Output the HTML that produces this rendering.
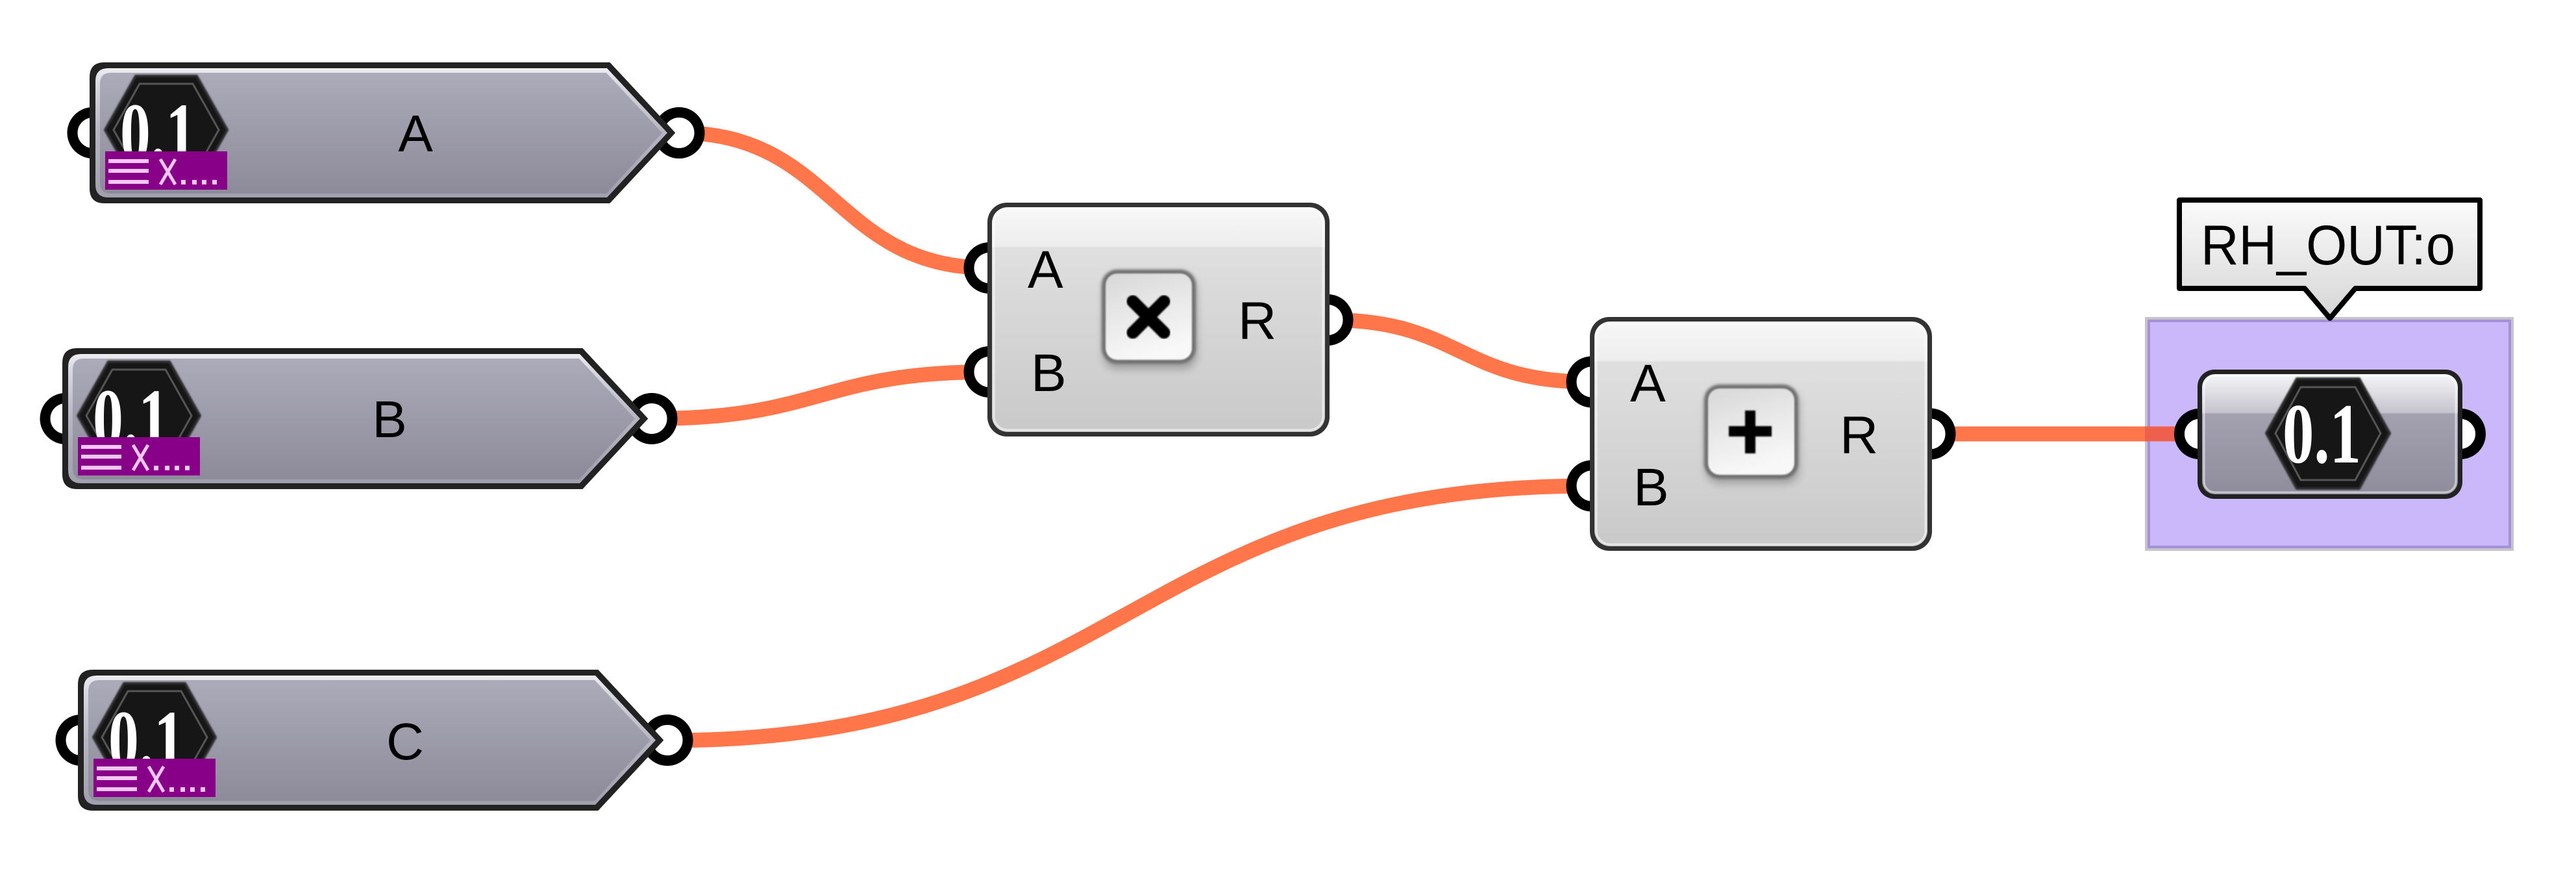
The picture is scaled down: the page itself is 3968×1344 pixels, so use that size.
<!DOCTYPE html>
<html><head><meta charset="utf-8"><style>
html,body{margin:0;padding:0;background:#fff;width:3968px;height:1344px;overflow:hidden}
svg{display:block}
</style></head><body>
<svg width="3968" height="1344" viewBox="0 0 3968 1344" xmlns="http://www.w3.org/2000/svg">
<defs>
  <linearGradient id="pfill" x1="0" y1="0" x2="0" y2="1">
    <stop offset="0" stop-color="#acabba"/><stop offset="1" stop-color="#8d8b9a"/>
  </linearGradient>
  <linearGradient id="prim" x1="0" y1="0" x2="0" y2="1">
    <stop offset="0" stop-color="#ececf1"/><stop offset="0.12" stop-color="#d9d9e0"/>
    <stop offset="0.5" stop-color="#b6b5c1"/><stop offset="1" stop-color="#a09fae"/>
  </linearGradient>
  <linearGradient id="cfill" x1="0" y1="0" x2="0" y2="1">
    <stop offset="0" stop-color="#f8f8f8"/><stop offset="0.175" stop-color="#ededed"/>
    <stop offset="0.18" stop-color="#dfdfdf"/><stop offset="1" stop-color="#c9c9c9"/>
  </linearGradient>
  <linearGradient id="ofill" x1="0" y1="0" x2="0" y2="1">
    <stop offset="0" stop-color="#f6f6f8"/><stop offset="0.32" stop-color="#c5c4cd"/>
    <stop offset="0.33" stop-color="#a3a1b0"/><stop offset="1" stop-color="#8f8d9c"/>
  </linearGradient>
  <linearGradient id="bfill" x1="0" y1="0" x2="0" y2="1">
    <stop offset="0" stop-color="#fbfbfb"/><stop offset="1" stop-color="#d6d6d6"/>
  </linearGradient>
  <linearGradient id="btn" x1="0" y1="0" x2="0.3" y2="1">
    <stop offset="0" stop-color="#d8d8d8"/><stop offset="1" stop-color="#f8f8f8"/>
  </linearGradient>
  <filter id="b6" x="-30%" y="-30%" width="160%" height="160%"><feGaussianBlur stdDeviation="6"/></filter>
  <filter id="b2" x="-20%" y="-20%" width="140%" height="140%"><feGaussianBlur stdDeviation="2"/></filter>
  <filter id="b1" x="-20%" y="-20%" width="140%" height="140%"><feGaussianBlur stdDeviation="1"/></filter>
</defs>

<!-- wires -->
<g fill="none" stroke="#FF764B" stroke-width="23">
  <path d="M1046,204.5 C1285,204.5 1285,412.5 1524,412.5"/>
  <path d="M1004,644.5 C1264,644.5 1264,572.5 1524,572.5"/>
  <path d="M2048,492.5 C2248,492.5 2248,588 2449,588"/>
  <path d="M1028,1140 C1738,1140 1738,748 2449,748"/>
  <path d="M2975,668 L3310,668"/>
</g>

<!-- purple group -->
<rect x="3304" y="488" width="568" height="360" fill="#c6c3ce"/>
<rect x="3308" y="492" width="560" height="352" fill="#a690d8"/>
<rect x="3312" y="496" width="552" height="344" fill="#cbb8fb"/>
<path d="M3304,668 L3390,668" stroke="#EE5F4C" stroke-width="23"/>

<!-- param node A -->
<g transform="translate(139,97)">
  <circle cx="4" cy="107.5" r="31.5" fill="#fff" stroke="#000" stroke-width="16"/>
  <circle cx="907" cy="107.5" r="31.5" fill="#fff" stroke="#000" stroke-width="16"/>
  <path d="M22,0 L800,0 L900,107.5 L800,215 L22,215 Q0,215 0,193 L0,22 Q0,0 22,0 Z" fill="#222" stroke="#222" stroke-width="2" stroke-linejoin="round"/>
  <path d="M28,8 L796,8 L889,107.5 L796,207 L28,207 Q8,207 8,187 L8,28 Q8,8 28,8 Z" fill="url(#prim)"/>
  <path d="M32,15 L795,15 L881,107.5 L795,201 L32,201 Q15,201 15,184 L15,32 Q15,15 32,15 Z" fill="url(#pfill)"/>
  <polygon points="23,103 70,20 164,20 211,103 164,186 70,186" fill="#151515" stroke="#2a2a2a" stroke-width="4" stroke-linejoin="round" filter="url(#b1)"/>
  <polygon points="36,103 76,32 158,32 198,103 158,174 76,174" fill="none" stroke="#555" stroke-width="3"/>
  <text x="46" y="151" font-family="Liberation Serif, serif" font-weight="bold" font-size="130" fill="#fff" textLength="117" lengthAdjust="spacingAndGlyphs">0.1</text>
  <rect x="23" y="136" width="188" height="59" fill="#870087"/>
  <g fill="#f3c9f3"><rect x="28" y="148" width="62" height="6"/><rect x="28" y="163" width="62" height="6"/><rect x="28" y="180" width="62" height="6"/>
  <rect x="140" y="180" width="7" height="7"/><rect x="157" y="180" width="7" height="7"/><rect x="172" y="180" width="7" height="7"/><rect x="188" y="180" width="7" height="7"/></g>
  <path d="M108,148 L131,187 M131,148 L108,187" stroke="#f3c9f3" stroke-width="5"/>
  <text x="501" y="136" text-anchor="middle" font-family="Liberation Sans, sans-serif" font-size="80" fill="#000">A</text>
</g>

<!-- param node B -->
<g transform="translate(97,537)">
  <circle cx="4" cy="107.5" r="31.5" fill="#fff" stroke="#000" stroke-width="16"/>
  <circle cx="907" cy="107.5" r="31.5" fill="#fff" stroke="#000" stroke-width="16"/>
  <path d="M22,0 L800,0 L900,107.5 L800,215 L22,215 Q0,215 0,193 L0,22 Q0,0 22,0 Z" fill="#222" stroke="#222" stroke-width="2" stroke-linejoin="round"/>
  <path d="M28,8 L796,8 L889,107.5 L796,207 L28,207 Q8,207 8,187 L8,28 Q8,8 28,8 Z" fill="url(#prim)"/>
  <path d="M32,15 L795,15 L881,107.5 L795,201 L32,201 Q15,201 15,184 L15,32 Q15,15 32,15 Z" fill="url(#pfill)"/>
  <polygon points="23,103 70,20 164,20 211,103 164,186 70,186" fill="#151515" stroke="#2a2a2a" stroke-width="4" stroke-linejoin="round" filter="url(#b1)"/>
  <polygon points="36,103 76,32 158,32 198,103 158,174 76,174" fill="none" stroke="#555" stroke-width="3"/>
  <text x="46" y="151" font-family="Liberation Serif, serif" font-weight="bold" font-size="130" fill="#fff" textLength="117" lengthAdjust="spacingAndGlyphs">0.1</text>
  <rect x="23" y="136" width="188" height="59" fill="#870087"/>
  <g fill="#f3c9f3"><rect x="28" y="148" width="62" height="6"/><rect x="28" y="163" width="62" height="6"/><rect x="28" y="180" width="62" height="6"/>
  <rect x="140" y="180" width="7" height="7"/><rect x="157" y="180" width="7" height="7"/><rect x="172" y="180" width="7" height="7"/><rect x="188" y="180" width="7" height="7"/></g>
  <path d="M108,148 L131,187 M131,148 L108,187" stroke="#f3c9f3" stroke-width="5"/>
  <text x="503" y="136" text-anchor="middle" font-family="Liberation Sans, sans-serif" font-size="80" fill="#000">B</text>
</g>

<!-- param node C -->
<g transform="translate(121,1032)">
  <circle cx="4" cy="107.5" r="31.5" fill="#fff" stroke="#000" stroke-width="16"/>
  <circle cx="907" cy="107.5" r="31.5" fill="#fff" stroke="#000" stroke-width="16"/>
  <path d="M22,0 L800,0 L900,107.5 L800,215 L22,215 Q0,215 0,193 L0,22 Q0,0 22,0 Z" fill="#222" stroke="#222" stroke-width="2" stroke-linejoin="round"/>
  <path d="M28,8 L796,8 L889,107.5 L796,207 L28,207 Q8,207 8,187 L8,28 Q8,8 28,8 Z" fill="url(#prim)"/>
  <path d="M32,15 L795,15 L881,107.5 L795,201 L32,201 Q15,201 15,184 L15,32 Q15,15 32,15 Z" fill="url(#pfill)"/>
  <polygon points="23,103 70,20 164,20 211,103 164,186 70,186" fill="#151515" stroke="#2a2a2a" stroke-width="4" stroke-linejoin="round" filter="url(#b1)"/>
  <polygon points="36,103 76,32 158,32 198,103 158,174 76,174" fill="none" stroke="#555" stroke-width="3"/>
  <text x="46" y="151" font-family="Liberation Serif, serif" font-weight="bold" font-size="130" fill="#fff" textLength="117" lengthAdjust="spacingAndGlyphs">0.1</text>
  <rect x="23" y="136" width="188" height="59" fill="#870087"/>
  <g fill="#f3c9f3"><rect x="28" y="148" width="62" height="6"/><rect x="28" y="163" width="62" height="6"/><rect x="28" y="180" width="62" height="6"/>
  <rect x="140" y="180" width="7" height="7"/><rect x="157" y="180" width="7" height="7"/><rect x="172" y="180" width="7" height="7"/><rect x="188" y="180" width="7" height="7"/></g>
  <path d="M108,148 L131,187 M131,148 L108,187" stroke="#f3c9f3" stroke-width="5"/>
  <text x="503" y="137" text-anchor="middle" font-family="Liberation Sans, sans-serif" font-size="80" fill="#000">C</text>
</g>

<!-- multiplication component -->
<g transform="translate(1521,312)">
  <circle cx="3" cy="100.5" r="31.5" fill="#fff" stroke="#000" stroke-width="16"/>
  <circle cx="3" cy="260.5" r="31.5" fill="#fff" stroke="#000" stroke-width="16"/>
  <circle cx="524" cy="180.5" r="31.5" fill="#fff" stroke="#000" stroke-width="16"/>
  <rect x="0" y="0" width="527" height="360" rx="30" fill="#333"/>
  <rect x="7" y="7" width="513" height="346" rx="24" fill="url(#cfill)"/>
  <rect x="10" y="10" width="507" height="340" rx="21" fill="none" stroke="#ffffff" stroke-opacity="0.55" stroke-width="3"/>
  <rect x="178" y="112" width="145" height="145" rx="22" fill="#000" opacity="0.22" filter="url(#b6)"/>
  <rect x="176" y="103" width="145" height="145" rx="24" fill="#6e6e6e" filter="url(#b2)"/>
  <rect x="182" y="109" width="133" height="133" rx="18" fill="url(#btn)" filter="url(#b1)"/>
  <path d="M224,152 L272,200 M272,152 L224,200" stroke="#000" stroke-width="19" stroke-linecap="round" filter="url(#b1)"/>
  <g font-family="Liberation Sans, sans-serif" font-size="82" fill="#000">
    <text x="62" y="131">A</text><text x="67" y="290">B</text><text x="386" y="210">R</text>
  </g>
</g>

<!-- addition component -->
<g transform="translate(2449,488)">
  <circle cx="3" cy="100" r="31.5" fill="#fff" stroke="#000" stroke-width="16"/>
  <circle cx="3" cy="260" r="31.5" fill="#fff" stroke="#000" stroke-width="16"/>
  <circle cx="524" cy="180" r="31.5" fill="#fff" stroke="#000" stroke-width="16"/>
  <rect x="0" y="0" width="527" height="360" rx="30" fill="#333"/>
  <rect x="7" y="7" width="513" height="346" rx="24" fill="url(#cfill)"/>
  <rect x="10" y="10" width="507" height="340" rx="21" fill="none" stroke="#ffffff" stroke-opacity="0.55" stroke-width="3"/>
  <rect x="178" y="112" width="145" height="145" rx="22" fill="#000" opacity="0.22" filter="url(#b6)"/>
  <rect x="176" y="104" width="145" height="145" rx="24" fill="#6e6e6e" filter="url(#b2)"/>
  <rect x="182" y="110" width="133" height="133" rx="18" fill="url(#btn)" filter="url(#b1)"/>
  <path d="M247,144 L247,210 M214,176 L280,176" stroke="#000" stroke-width="16" filter="url(#b1)"/>
  <g font-family="Liberation Sans, sans-serif" font-size="82" fill="#000">
    <text x="62" y="130">A</text><text x="67" y="290">B</text><text x="385" y="210">R</text>
  </g>
</g>

<!-- output param node -->
<g transform="translate(3385,569)">
  <circle cx="3" cy="99" r="31" fill="#fff" stroke="#000" stroke-width="16"/>
  <circle cx="405" cy="99" r="31" fill="#fff" stroke="#000" stroke-width="16"/>
  <rect x="0" y="0" width="408" height="199" rx="26" fill="#222"/>
  <rect x="7" y="7" width="394" height="185" rx="20" fill="url(#ofill)"/>
  <rect x="10" y="10" width="388" height="179" rx="17" fill="none" stroke="#fff" stroke-opacity="0.5" stroke-width="3"/>
  <polygon points="106,98 153,14 249,14 296,98 249,183 153,183" fill="#151515" stroke="#2a2a2a" stroke-width="4" stroke-linejoin="round" filter="url(#b1)"/>
  <polygon points="120,98 159,27 243,27 282,98 243,170 159,170" fill="none" stroke="#555" stroke-width="3"/>
  <text x="131" y="143" font-family="Liberation Serif, serif" font-weight="bold" font-size="132" fill="#fff" textLength="121" lengthAdjust="spacingAndGlyphs">0.1</text>
</g>

<!-- label bubble -->
<path d="M3357,308 H3820 V444 H3628 L3589,490 L3550,444 H3357 Z" fill="url(#bfill)" stroke="#000" stroke-width="8" stroke-linejoin="round"/>
<text x="3390" y="407" font-family="Liberation Sans, sans-serif" font-size="86" fill="#000" textLength="392" lengthAdjust="spacingAndGlyphs">RH_OUT:o</text>
</svg>
</body></html>
